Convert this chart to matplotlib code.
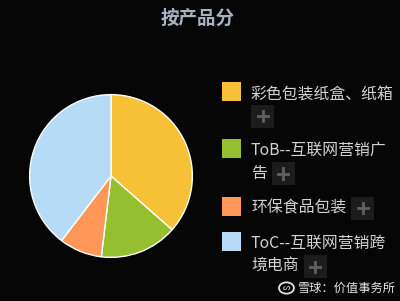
import matplotlib
matplotlib.use("Agg")
import matplotlib.pyplot as plt
from matplotlib.patches import Rectangle, Circle
from matplotlib.lines import Line2D

plt.rcParams['font.family'] = ['Noto Sans CJK SC', 'DejaVu Sans']

title = "按产品分"
categories = ["彩色包装纸盒、纸箱", "ToB--互联网营销广告", "环保食品包装", "ToC--互联网营销跨境电商"]
label_lines = [["彩色包装纸盒、纸箱"], ["ToB--互联网营销广", "告"], ["环保食品包装"], ["ToC--互联网营销跨", "境电商"]]
values = [36.5, 15.4, 8.5, 39.6]
colors = ["#F6C137", "#94BF2F", "#FE9757", "#B5DBF7"]
watermark = "雪球：价值事务所"

W, H = 400, 301
DPI = 100
BG = "#060606"
fig = plt.figure(figsize=(W / DPI, H / DPI), dpi=DPI, facecolor=BG)

def fx(px):
    return px / W

def fy(py):
    return 1 - py / H

# title
fig.text(fx(198), fy(18), title, ha='center', va='center', fontsize=13.3,
         color="#A7B3C1", fontweight='bold')

# pie
cx, cy, r = 111, 176, 83
ax = fig.add_axes([fx(cx - r), fy(cy + r), 2 * r / W, 2 * r / H])
ax.set_facecolor(BG)
ax.pie(values, colors=colors, startangle=90, counterclock=False, radius=1,
       wedgeprops=dict(edgecolor='white', linewidth=1.0))
ax.set_xlim(-1.02, 1.02)
ax.set_ylim(-1.02, 1.02)
ax.set_aspect('equal')
ax.axis('off')

# legend
sq_x, sq_w = 222, 19
text_x = 251
line_h = 23.5
row_tops = [94, 150, 208, 243]
btn = 23
fig.canvas.draw()
renderer = fig.canvas.get_renderer()

for i, lines in enumerate(label_lines):
    y0 = row_tops[i]
    fig.add_artist(Rectangle((fx(sq_x), fy(y0 - 2 + sq_w / 2)), sq_w / W, sq_w / H,
                             transform=fig.transFigure, facecolor=colors[i], edgecolor='none'))
    last = None
    for j, ln in enumerate(lines):
        last = fig.text(fx(text_x), fy(y0 + j * line_h), ln, ha='left', va='center',
                        fontsize=11.4, color="#D2D2D2")
    bb = last.get_window_extent(renderer)
    end_x = bb.x1
    by = y0 + (len(lines) - 1) * line_h
    if end_x + 6 + btn > W - 2:
        bx = text_x
        by = by + line_h - 1
    else:
        bx = end_x + 5
    fig.add_artist(Rectangle((fx(bx), fy(by + btn / 2)), btn / W, btn / H,
                             transform=fig.transFigure, facecolor="#1C1C1C", edgecolor='none'))
    mx, my = bx + btn / 2, by
    fig.add_artist(Line2D([fx(mx - 5), fx(mx + 5)], [fy(my), fy(my)], transform=fig.transFigure,
                          color="#606060", linewidth=2.0))
    fig.add_artist(Line2D([fx(mx), fx(mx)], [fy(my - 5), fy(my + 5)], transform=fig.transFigure,
                          color="#606060", linewidth=2.0))

# watermark
fig.add_artist(Circle((fx(286.5), fy(288)), 7.5 / W, transform=fig.transFigure,
                      facecolor='none', edgecolor="#E0E0E0", linewidth=1.3))
fig.text(fx(286.5), fy(288), "ᔕ", ha='center', va='center', fontsize=6, color="#E0E0E0",
         family=['DejaVu Sans'])
fig.text(fx(297), fy(288), watermark, ha='left', va='center', fontsize=8.8, color="#E6E6E6")

fig.savefig("out.png", dpi=DPI, facecolor=BG)
